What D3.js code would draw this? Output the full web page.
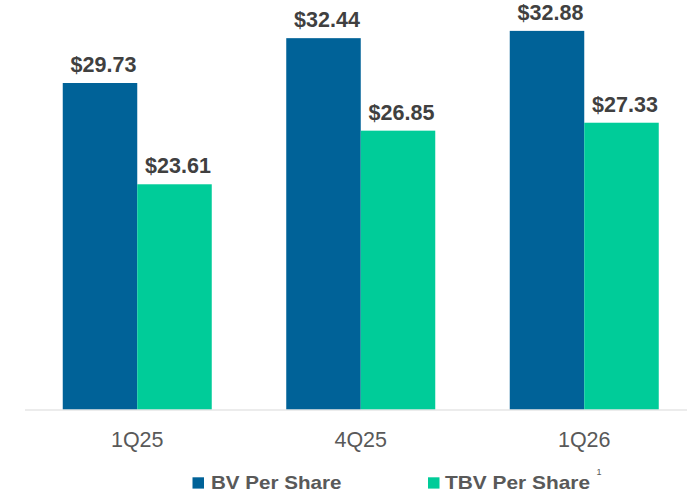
<!DOCTYPE html>
<html>
<head>
<meta charset="utf-8">
<script src="https://cdn.jsdelivr.net/npm/d3@7"></script>
<style>
  html, body { margin: 0; padding: 0; background: #ffffff; }
  svg { display: block; }
  text { font-family: "Liberation Sans", Arial, sans-serif; }
</style>
</head>
<body>
<svg id="chart" width="687" height="496"></svg>
<script>
const categories = ["1Q25", "4Q25", "1Q26"];
const seriesNames = ["BV Per Share", "TBV Per Share"];
const bvValues = [29.73, 32.44, 32.88];
const tbvValues = [23.61, 26.85, 27.33];
const seriesColors = ["#006298", "#00CC99"];
const yDomain = [10, 35];

const width = 687, height = 496;
const svg = d3.select("#chart");

const x = d3.scaleBand().domain(categories).range([25.5, 696]).paddingInner(0).paddingOuter(0);
const xs = d3.scaleBand().domain(seriesNames).range([x.bandwidth() / 6, x.bandwidth() * 5 / 6]).padding(0);
const y = d3.scaleLinear().domain(yDomain).range([409.5, -4.2]);

const data = categories.map((c, i) => ({
  cat: c,
  vals: [
    { s: seriesNames[0], v: bvValues[i], color: seriesColors[0] },
    { s: seriesNames[1], v: tbvValues[i], color: seriesColors[1] }
  ]
}));

const groups = svg.selectAll("g.grp").data(data).join("g")
  .attr("class", "grp")
  .attr("transform", d => `translate(${x(d.cat)},0)`);

groups.selectAll("rect").data(d => d.vals).join("rect")
  .attr("x", d => xs(d.s))
  .attr("width", xs.bandwidth())
  .attr("y", d => y(d.v))
  .attr("height", d => y(yDomain[0]) - y(d.v))
  .attr("fill", d => d.color);

groups.selectAll("text.val").data(d => d.vals).join("text")
  .attr("class", "val")
  .attr("x", d => xs(d.s) + xs.bandwidth() / 2 + 3.5)
  .attr("y", d => y(d.v) - 11)
  .attr("text-anchor", "middle")
  .attr("font-size", "21.5px")
  .attr("font-weight", "bold")
  .attr("fill", "#404040")
  .text(d => "$" + d3.format(".2f")(d.v));

// axis baseline
svg.append("line")
  .attr("x1", 25).attr("x2", width)
  .attr("y1", y(yDomain[0]) + 0.5).attr("y2", y(yDomain[0]) + 0.5)
  .attr("stroke", "#d9d9d9").attr("stroke-width", 1.2);

// category labels
svg.selectAll("text.cat").data(categories).join("text")
  .attr("class", "cat")
  .attr("x", d => x(d) + x.bandwidth() / 2)
  .attr("y", 446.5)
  .attr("text-anchor", "middle")
  .attr("font-size", "21.5px")
  .attr("fill", "#595959")
  .text(d => d);

// legend
const legendItems = [
  { name: seriesNames[0], color: seriesColors[0], sx: 192.5, tx: 211, tw: 130.5 },
  { name: seriesNames[1], color: seriesColors[1], sx: 428, tx: 445, tw: 145 }
];
const lg = svg.selectAll("g.leg").data(legendItems).join("g").attr("class", "leg");
lg.append("rect")
  .attr("x", d => d.sx).attr("y", 477.3)
  .attr("width", 11.5).attr("height", 11.3)
  .attr("fill", d => d.color);
lg.append("text")
  .attr("x", d => d.tx).attr("y", 489.3)
  .attr("font-size", "18.5px").attr("font-weight", "bold")
  .attr("fill", "#595959")
  .attr("textLength", d => d.tw).attr("lengthAdjust", "spacingAndGlyphs")
  .text(d => d.name);
svg.append("text")
  .attr("x", 596.5).attr("y", 474.5)
  .attr("font-size", "9px")
  .attr("fill", "#595959")
  .text("1");
</script>
</body>
</html>
